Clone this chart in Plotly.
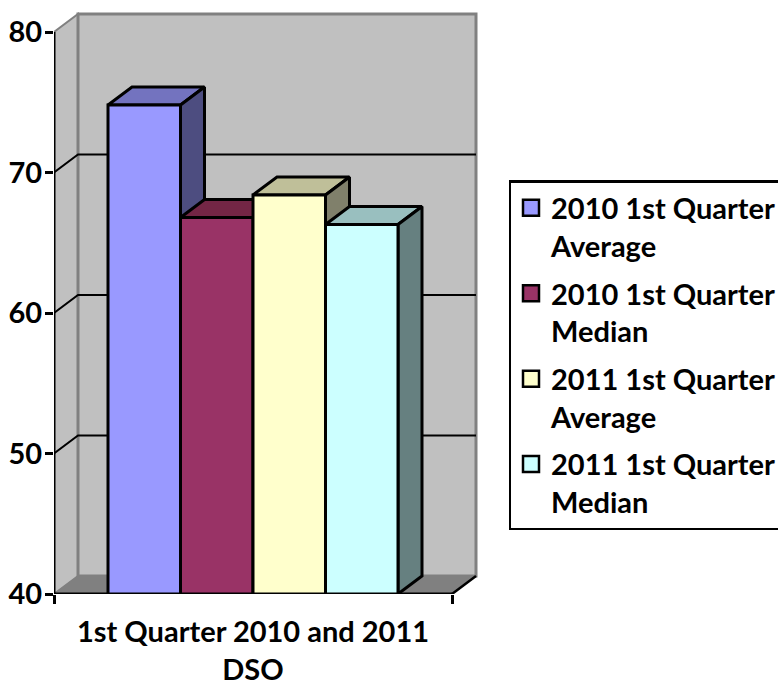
import plotly.graph_objects as go

series_names = ["2010 1st Quarter<br>Average", "2010 1st Quarter<br>Median",
                "2011 1st Quarter<br>Average", "2011 1st Quarter<br>Median"]
series_values = [74.8, 66.8, 68.4, 66.3]
front_colors = ["#9999FF", "#993366", "#FFFFCC", "#CCFFFF"]
top_colors = ["#7373BF", "#732645", "#BFBF99", "#99BFBF"]
side_colors = ["#4D4D80", "#4D1A33", "#80806B", "#668080"]
y_ticks = [40, 50, 60, 70, 80]
category_label = "1st Quarter 2010 and 2011<br>DSO"

# Pixel frame of the figure
W, H = 778, 683
PL, PR, PT, PB = 54, 480, 8, 594
UX = 72.5          # px per bar
UY = 14.05         # px per y unit
X0 = 108           # px position of the first bar's left side
DX = 24 / UX       # depth projection in data units
DY = 18 / UY
x_range = [(PL - X0) / UX, (PR - X0) / UX]
y_range = [40, 40 + (PB - PT) / UY]
xl = x_range[0]
xr = (452 - X0) / UX
FONT = "Lato"
FS = 29

fig = go.Figure()


def poly(xs, ys, fill=None, color="black", width=3, **kw):
    return go.Scatter(x=xs, y=ys, mode="lines", fill="toself" if fill else None,
                      fillcolor=fill, line=dict(color=color, width=width),
                      hoverinfo="skip", showlegend=False, **kw)


# Walls and floor
shapes = []
ymin, ymax = y_ticks[0], y_ticks[-1]
def path(points):
    return "M" + "L".join(f"{a},{b}" for a, b in points) + "Z"
shapes.append(dict(type="path", layer="below", xref="x", yref="y",
                   path=path([(xl, ymin), (xl + DX, ymin + DY), (xl + DX, ymax + DY), (xl, ymax)]),
                   fillcolor="#C0C0C0", line=dict(color="#808080", width=2)))
shapes.append(dict(type="path", layer="below", xref="x", yref="y",
                   path=path([(xl + DX, ymin + DY), (xr + DX, ymin + DY), (xr + DX, ymax + DY), (xl + DX, ymax + DY)]),
                   fillcolor="#C0C0C0", line=dict(color="#808080", width=3)))
shapes.append(dict(type="path", layer="below", xref="x", yref="y",
                   path=path([(xl, ymin), (xl + DX, ymin + DY), (xr + DX, ymin + DY), (xr, ymin)]),
                   fillcolor="#808080", line=dict(color="#808080", width=1)))

# Gridlines on the back wall with their diagonals on the side wall
for t in y_ticks[1:-1]:
    fig.add_trace(poly([xl, xl + DX, xr + DX], [t, t + DY, t + DY], width=2))
fig.add_trace(poly([xr, xr + DX], [ymin, ymin + DY], width=2.5))

# Depth faces, left to right
for i, v in enumerate(series_values):
    fig.add_trace(poly([i, i + 1, i + 1 + DX, i + DX, i], [v, v, v + DY, v + DY, v], fill=top_colors[i]))
    fig.add_trace(poly([i + 1, i + 1 + DX, i + 1 + DX, i + 1, i + 1],
                       [ymin, ymin + DY, v + DY, v, ymin], fill=side_colors[i]))

# Front faces on the overlaid axes
for i, v in enumerate(series_values):
    fig.add_trace(go.Bar(x=[i + 0.5], y=[v], width=1, marker=dict(color=front_colors[i], line=dict(color="black", width=3)),
                         xaxis="x2", yaxis="y2", showlegend=False, hoverinfo="skip"))

# Axis lines
fig.add_trace(go.Scatter(x=[xl, xr], y=[ymin, ymin], mode="lines", line=dict(color="black", width=3),
                         xaxis="x2", yaxis="y2", cliponaxis=False, showlegend=False, hoverinfo="skip"))
fig.add_trace(go.Scatter(x=[xl, xl], y=[ymin, ymax], mode="lines", line=dict(color="black", width=3),
                         xaxis="x2", yaxis="y2", cliponaxis=False, showlegend=False, hoverinfo="skip"))

# Legend entries
for i, name in enumerate(series_names):
    fig.add_trace(go.Scatter(x=[None], y=[None], mode="markers", name=name, legendgroup=f"g{i}",
                             marker=dict(symbol="square", size=16, color=front_colors[i],
                                         line=dict(color="black", width=2.5))))

font = dict(family=FONT, size=FS, color="black", weight=700)
fig.update_layout(
    width=W, height=H, autosize=False,
    margin=dict(l=PL, r=W - PR, t=PT, b=H - PB, pad=0, autoexpand=False),
    paper_bgcolor="white", plot_bgcolor="white", barmode="overlay", font=font,
    shapes=shapes,
    xaxis=dict(range=x_range, showgrid=False, zeroline=False, showline=False, tickmode="array",
               tickvals=[xl, xr], ticktext=["", ""], ticks="outside", ticklen=9, tickwidth=2.5, tickcolor="black"),
    yaxis=dict(range=y_range, showgrid=False, zeroline=False, showline=False, tickmode="array",
               tickvals=y_ticks, ticks="outside", ticklen=8, tickwidth=2.5, tickcolor="black", tickfont=font,
               ticklabelstandoff=-3),
    xaxis2=dict(range=x_range, overlaying="x", anchor="y2", side="bottom", showgrid=False, zeroline=False,
                showline=False, tickmode="array", tickvals=[len(series_values) / 2], ticktext=[category_label],
                ticks="", tickfont=font, ticklabelstandoff=18),
    yaxis2=dict(range=y_range, overlaying="y", anchor="x2", visible=False),
    legend=dict(x=(508.5 - PL) / (PR - PL), xanchor="left", y=(PB - 180) / (PB - PT), yanchor="top",
                bordercolor="black", borderwidth=2.5, bgcolor="white", font=font, valign="top",
                tracegroupgap=7, traceorder="grouped"),
)
fig.write_html("out.html", default_width=f"{W}px", default_height=f"{H}px",
               config=dict(displayModeBar=False),
               post_script="document.body.style.margin='0';document.documentElement.style.overflow='hidden';")
